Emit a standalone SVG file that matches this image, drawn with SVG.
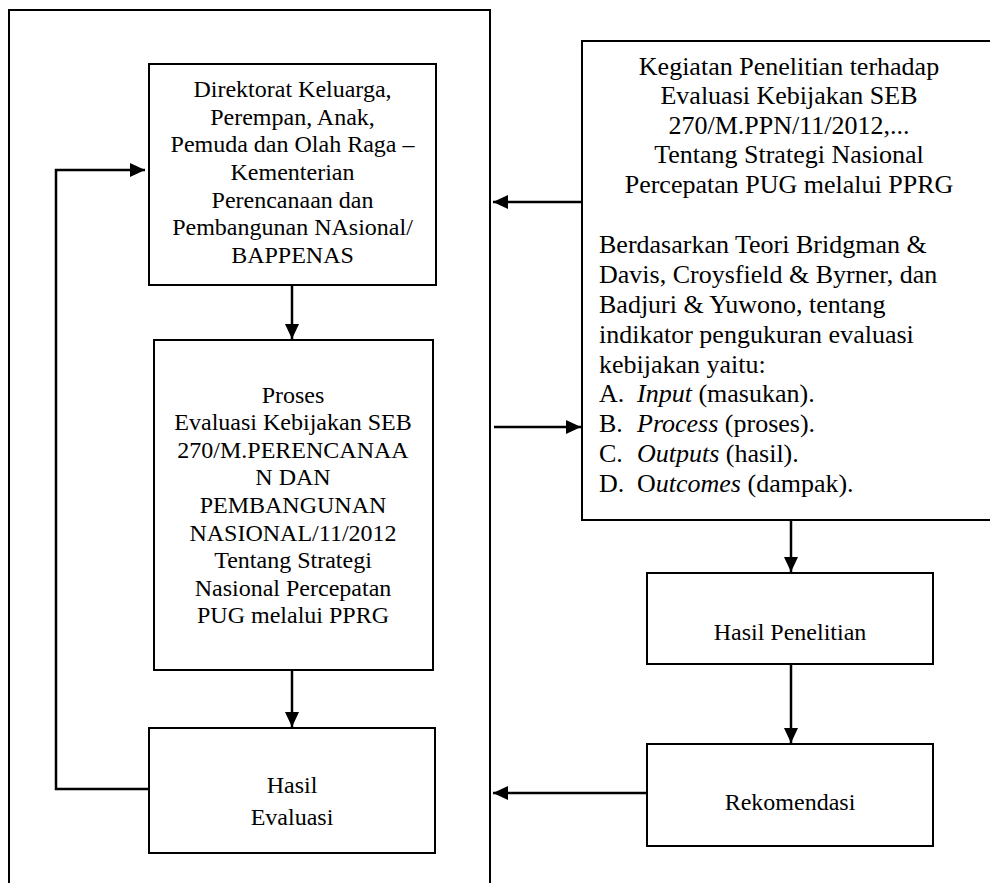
<svg xmlns="http://www.w3.org/2000/svg" width="990" height="883" viewBox="0 0 990 883">
<style>
.box{fill:#fff;stroke:#000;stroke-width:2}
.frame{fill:none;stroke:#000;stroke-width:2}
.conn{fill:none;stroke:#000;stroke-width:2.5}
.t{font-family:"Liberation Serif","Times New Roman",serif;font-size:24px;fill:#000;text-anchor:middle}
.p{font-family:"Liberation Serif","Times New Roman",serif;font-size:26px;fill:#000}
.c{text-anchor:middle}
</style>
<defs>
<marker id="ah" markerUnits="userSpaceOnUse" markerWidth="16" markerHeight="16" refX="15" refY="7" orient="auto">
<path d="M0,0 L15,7 L0,14 Z" fill="#000"/>
</marker>
</defs>
<rect width="990" height="883" fill="#fff"/>
<path class="frame" d="M9,883 V10 H490 V883"/>
<g id="direktorat">
<rect class="box" x="149" y="64" width="287" height="221"/>
<text class="t" x="292.5" y="97">Direktorat Keluarga,</text>
<text class="t" x="292.5" y="125">Perempan, Anak,</text>
<text class="t" x="292.5" y="152">Pemuda dan Olah Raga –</text>
<text class="t" x="292.5" y="180">Kementerian</text>
<text class="t" x="292.5" y="208">Perencanaan dan</text>
<text class="t" x="292.5" y="235">Pembangunan NAsional/</text>
<text class="t" x="292.5" y="263">BAPPENAS</text>
</g>
<g id="proses">
<rect class="box" x="154" y="340" width="279" height="330"/>
<text class="t" x="293" y="403">Proses</text>
<text class="t" x="293" y="430">Evaluasi Kebijakan SEB</text>
<text class="t" x="293" y="458">270/M.PERENCANAA</text>
<text class="t" x="293" y="485">N DAN</text>
<text class="t" x="293" y="513">PEMBANGUNAN</text>
<text class="t" x="293" y="541">NASIONAL/11/2012</text>
<text class="t" x="293" y="568">Tentang Strategi</text>
<text class="t" x="293" y="596">Nasional Percepatan</text>
<text class="t" x="293" y="623">PUG melalui PPRG</text>
</g>
<g id="hasil-evaluasi">
<rect class="box" x="149" y="728" width="286" height="125"/>
<text class="t" x="292" y="793">Hasil</text>
<text class="t" x="292" y="825">Evaluasi</text>
</g>
<g id="kegiatan">
<path class="box" d="M995,41 H582 V520 H995"/>
<text class="p c" x="789" y="75">Kegiatan Penelitian terhadap</text>
<text class="p c" x="789" y="104">Evaluasi Kebijakan SEB</text>
<text class="p c" x="789" y="134">270/M.PPN/11/2012,...</text>
<text class="p c" x="789" y="163">Tentang Strategi Nasional</text>
<text class="p c" x="789" y="193">Percepatan PUG melalui PPRG</text>
<text class="p" x="599" y="253">Berdasarkan Teori Bridgman &amp;</text>
<text class="p" x="599" y="283">Davis, Croysfield &amp; Byrner, dan</text>
<text class="p" x="599" y="313">Badjuri &amp; Yuwono, tentang</text>
<text class="p" x="599" y="343">indikator pengukuran evaluasi</text>
<text class="p" x="599" y="373">kebijakan yaitu:</text>
<text class="p" x="599" y="402">A.</text><text class="p" x="637" y="402"><tspan font-style="italic">Input</tspan> (masukan).</text>
<text class="p" x="599" y="432">B.</text><text class="p" x="637" y="432"><tspan font-style="italic">Process</tspan> (proses).</text>
<text class="p" x="599" y="462">C.</text><text class="p" x="637" y="462"><tspan font-style="italic">Outputs</tspan> (hasil).</text>
<text class="p" x="599" y="492">D.</text><text class="p" x="637" y="492">O<tspan font-style="italic">utcomes</tspan> (dampak).</text>
</g>
<g id="hasil-penelitian">
<rect class="box" x="647" y="573" width="286" height="91"/>
<text class="t" x="790" y="640">Hasil Penelitian</text>
</g>
<g id="rekomendasi">
<rect class="box" x="647" y="744" width="286" height="102"/>
<text class="t" x="790" y="810">Rekomendasi</text>
</g>
<g id="connectors">
<path class="conn" d="M292,285 V339" marker-end="url(#ah)"/>
<path class="conn" d="M292,670 V727" marker-end="url(#ah)"/>
<path class="conn" d="M149,789 H56 V170 H145" marker-end="url(#ah)"/>
<path class="conn" d="M582,202 H493" marker-end="url(#ah)"/>
<path class="conn" d="M494,427 H581" marker-end="url(#ah)"/>
<path class="conn" d="M791,520 V572" marker-end="url(#ah)"/>
<path class="conn" d="M791,664 V743" marker-end="url(#ah)"/>
<path class="conn" d="M647,793 H493" marker-end="url(#ah)"/>
</g>
</svg>
